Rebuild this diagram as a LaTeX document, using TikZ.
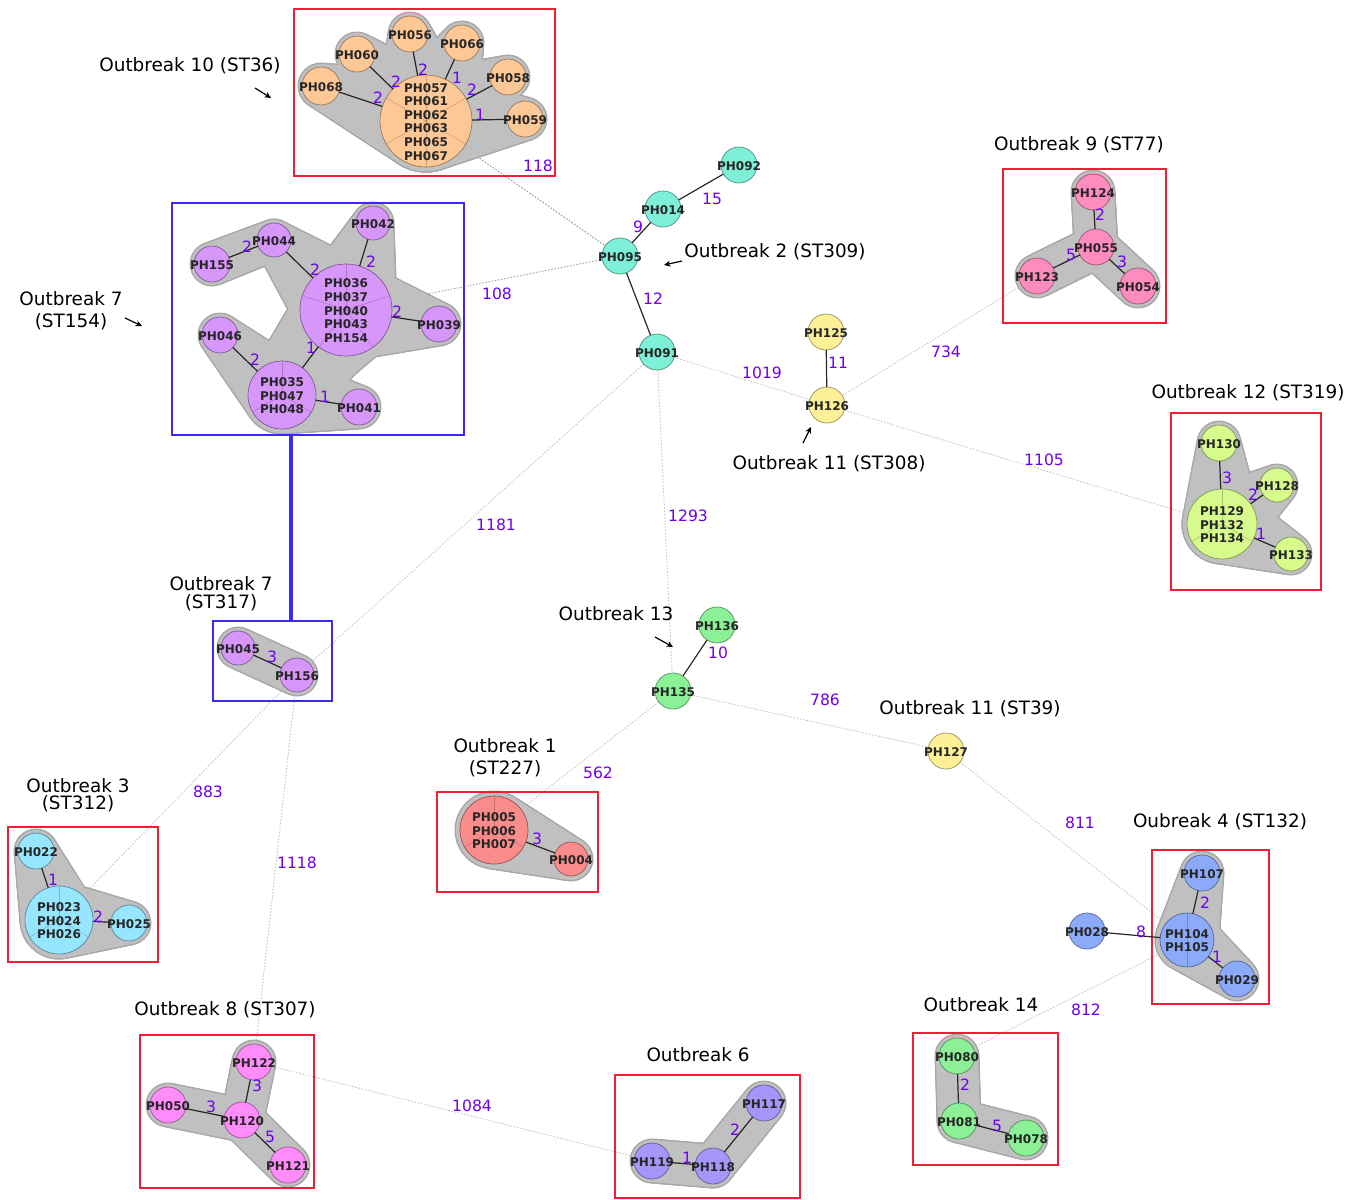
\documentclass[tikz,border=0pt]{standalone}
\usepackage{fontspec}
\setmainfont{DejaVu Sans}
\usetikzlibrary{arrows.meta, calc, fit}

\definecolor{cOrange}{RGB}{253,200,150}
\definecolor{cViolet}{RGB}{214,150,250}
\definecolor{cAqua}{RGB}{125,240,215}
\definecolor{cYellow}{RGB}{253,240,150}
\definecolor{cPink}{RGB}{255,140,190}
\definecolor{cLime}{RGB}{215,250,140}
\definecolor{cGreen}{RGB}{140,240,150}
\definecolor{cSalmon}{RGB}{250,140,140}
\definecolor{cSky}{RGB}{150,230,255}
\definecolor{cBlue}{RGB}{140,170,250}
\definecolor{cLavender}{RGB}{165,150,250}
\definecolor{cMagenta}{RGB}{255,140,250}
\definecolor{hullgrey}{RGB}{192,192,192}
\definecolor{hulledge}{RGB}{168,168,168}
\definecolor{boxred}{RGB}{240,30,50}
\definecolor{boxblue}{RGB}{60,40,240}
\definecolor{labviolet}{RGB}{110,0,240}

\newcommand{\nodefont}{\fontsize{6}{6.8}\selectfont\bfseries}
\newcommand{\edgefont}{\fontsize{7.8}{9}\selectfont}
\newcommand{\outfont}{\fontsize{9.2}{11}\selectfont}
% isolate ids: text may spill over the circle
\newcommand{\ids}[1]{\hbox to 0pt{\hss\raisebox{-1.2pt}[\height][\depth]{\begin{tabular}{@{}c@{}}#1\end{tabular}}\hss}}

\pgfdeclarelayer{far}
\pgfdeclarelayer{hullline}
\pgfdeclarelayer{hullfill}
\pgfsetlayers{far,hullline,hullfill,main}

% grey hull between two nodes (radii in px)
\newcommand{\hullpair}[4]{%
  \begin{pgfonlayer}{hullline}
    \foreach \i in {0,...,24}{%
      \pgfmathsetmacro{\hr}{(#3+(#4-#3)*\i/24+1.5)*0.5}
      \fill[hulledge] ($(#1)!\i/24!(#2)$) circle[radius=\hr pt];
    }
  \end{pgfonlayer}
  \begin{pgfonlayer}{hullfill}
    \foreach \i in {0,...,24}{%
      \pgfmathsetmacro{\hr}{(#3+(#4-#3)*\i/24)*0.5}
      \fill[hullgrey] ($(#1)!\i/24!(#2)$) circle[radius=\hr pt];
    }
  \end{pgfonlayer}}
\newcommand{\hullpoly}[1]{%
  \begin{pgfonlayer}{hullline}
    \filldraw[hulledge, line width=1.6pt, line join=round] #1 -- cycle;
  \end{pgfonlayer}
  \begin{pgfonlayer}{hullfill}
    \fill[hullgrey] #1 -- cycle;
  \end{pgfonlayer}}

\begin{document}
\begin{tikzpicture}[
    x=0.5pt, y=-0.5pt,
    pnode/.style 2 args={circle, fill=#1, draw=#1!60!black, line width=0.35pt, minimum size=#2pt,
        inner sep=0pt, outer sep=0pt, font=\nodefont, text=black!85},
    sectors/.style={path picture={\foreach \a in {#1}{\draw[line width=0.3pt, draw=black, draw opacity=0.2]
        (path picture bounding box.center) -- ++(\a:40pt);}}},
    tie/.style={draw=black!85, line width=0.6pt},
    farlink/.style={draw=gray!45, line width=0.45pt, dash pattern=on 0.8pt off 0.8pt},
    elab/.style={text=labviolet, font=\edgefont, inner sep=0pt},
    obl/.style={font=\outfont, align=center, inner sep=0pt},
    redbox/.style={draw=boxred, line width=1pt, inner sep=0pt, outer sep=0pt},
    bluebox/.style={draw=boxblue, line width=1pt, inner sep=0pt, outer sep=0pt},
    pointer/.style={-{Stealth[length=3.2pt,width=3pt]}, line width=0.6pt, black}
]
\useasboundingbox (0,0) rectangle (1363,1199);

% === Outbreak 10 (ST36) ===
\node[pnode={cOrange}{46}, sectors={90,30,-30,-90,-150,150}] (ph057) at (426,121) {\ids{PH057\\PH061\\PH062\\PH063\\PH065\\PH067}};
\node[pnode={cOrange}{19}] (ph068) at (321,86) {\ids{PH068}};
\node[pnode={cOrange}{18}] (ph060) at (357,54) {\ids{PH060}};
\node[pnode={cOrange}{18}] (ph056) at (410,34) {\ids{PH056}};
\node[pnode={cOrange}{18}] (ph066) at (462,43) {\ids{PH066}};
\node[pnode={cOrange}{18}] (ph058) at (508,77) {\ids{PH058}};
\node[pnode={cOrange}{18}] (ph059) at (525,119) {\ids{PH059}};
\node[redbox, fit={(294,9) (555,176)}] (box10) {};

% === Outbreak 7 (ST154) ===
\node[pnode={cViolet}{46}, sectors={90,18,-54,-126,162}] (ph036) at (346,310) {\ids{PH036\\PH037\\PH040\\PH043\\PH154}};
\node[pnode={cViolet}{34}, sectors={90,-30,-150}] (ph035) at (282,395) {\ids{PH035\\PH047\\PH048}};
\node[pnode={cViolet}{17}] (ph044) at (274,240) {\ids{PH044}};
\node[pnode={cViolet}{18}] (ph155) at (212,264) {\ids{PH155}};
\node[pnode={cViolet}{17}] (ph042) at (373,223) {\ids{PH042}};
\node[pnode={cViolet}{18}] (ph039) at (439,324) {\ids{PH039}};
\node[pnode={cViolet}{18}] (ph046) at (220,335) {\ids{PH046}};
\node[pnode={cViolet}{18}] (ph041) at (359,407) {\ids{PH041}};
\node[bluebox, fit={(172,203) (464,435)}] (box154) {};

% === Outbreak 7 (ST317) ===
\node[pnode={cViolet}{17}] (ph045) at (238,648) {\ids{PH045}};
\node[pnode={cViolet}{17}] (ph156) at (297,675) {\ids{PH156}};
\node[bluebox, fit={(213,621) (332,701)}] (box317) {};

% === Outbreak 2 (ST309) ===
\node[pnode={cAqua}{18}] (ph092) at (739,165) {\ids{PH092}};
\node[pnode={cAqua}{18}] (ph014) at (663,209) {\ids{PH014}};
\node[pnode={cAqua}{18}] (ph095) at (620,256) {\ids{PH095}};
\node[pnode={cAqua}{18}] (ph091) at (657,352) {\ids{PH091}};

% === Outbreak 11 (ST308) ===
\node[pnode={cYellow}{18}] (ph125) at (826,332) {\ids{PH125}};
\node[pnode={cYellow}{18}] (ph126) at (827,405) {\ids{PH126}};

% === Outbreak 9 (ST77) ===
\node[pnode={cPink}{18}] (ph124) at (1093,192) {\ids{PH124}};
\node[pnode={cPink}{18}] (ph055) at (1096,247) {\ids{PH055}};
\node[pnode={cPink}{18}] (ph123) at (1037,276) {\ids{PH123}};
\node[pnode={cPink}{18}] (ph054) at (1138,286) {\ids{PH054}};
\node[redbox, fit={(1003,169) (1166,323)}] (box9) {};

% === Outbreak 12 (ST319) ===
\node[pnode={cLime}{18}] (ph130) at (1219,443) {\ids{PH130}};
\node[pnode={cLime}{35}, sectors={90,-30,-150}] (ph129) at (1222,524) {\ids{PH129\\PH132\\PH134}};
\node[pnode={cLime}{17}] (ph128) at (1277,485) {\ids{PH128}};
\node[pnode={cLime}{17}] (ph133) at (1291,554) {\ids{PH133}};
\node[redbox, fit={(1171,413) (1321,590)}] (box12) {};

% === Outbreak 13 and Outbreak 11 (ST39) ===
\node[pnode={cGreen}{18}] (ph136) at (717,625) {\ids{PH136}};
\node[pnode={cGreen}{18}] (ph135) at (673,691) {\ids{PH135}};
\node[pnode={cYellow}{18}] (ph127) at (946,751) {\ids{PH127}};

% === Outbreak 1 (ST227) ===
\node[pnode={cSalmon}{34}, sectors={90,-30,-150}] (ph005) at (494,830) {\ids{PH005\\PH006\\PH007}};
\node[pnode={cSalmon}{17}] (ph004) at (571,859) {\ids{PH004}};
\node[redbox, fit={(437,792) (598,892)}] (box1) {};

% === Outbreak 3 (ST312) ===
\node[pnode={cSky}{18}] (ph022) at (36,851) {\ids{PH022}};
\node[pnode={cSky}{34}, sectors={90,-30,-150}] (ph023) at (59,920) {\ids{PH023\\PH024\\PH026}};
\node[pnode={cSky}{18}] (ph025) at (129,923) {\ids{PH025}};
\node[redbox, fit={(8,827) (158,962)}] (box3) {};

% === Oubreak 4 (ST132) ===
\node[pnode={cBlue}{18}] (ph107) at (1202,873) {\ids{PH107}};
\node[pnode={cBlue}{27}, sectors={90,-90}] (ph104) at (1187,940) {\ids{PH104\\PH105}};
\node[pnode={cBlue}{18}] (ph029) at (1237,979) {\ids{PH029}};
\node[pnode={cBlue}{18}] (ph028) at (1087,931) {\ids{PH028}};
\node[redbox, fit={(1152,850) (1269,1004)}] (box4) {};

% === Outbreak 14 ===
\node[pnode={cGreen}{18}] (ph080) at (957,1056) {\ids{PH080}};
\node[pnode={cGreen}{18}] (ph081) at (959,1121) {\ids{PH081}};
\node[pnode={cGreen}{18}] (ph078) at (1026,1138) {\ids{PH078}};
\node[redbox, fit={(913,1033) (1058,1165)}] (box14) {};

% === Outbreak 6 ===
\node[pnode={cLavender}{18}] (ph117) at (764,1103) {\ids{PH117}};
\node[pnode={cLavender}{18}] (ph118) at (713,1166) {\ids{PH118}};
\node[pnode={cLavender}{18}] (ph119) at (652,1161) {\ids{PH119}};
\node[redbox, fit={(615,1075) (800,1198)}] (box6) {};

% === Outbreak 8 (ST307) ===
\node[pnode={cMagenta}{18}] (ph122) at (254,1062) {\ids{PH122}};
\node[pnode={cMagenta}{18}] (ph120) at (242,1120) {\ids{PH120}};
\node[pnode={cMagenta}{18}] (ph050) at (168,1105) {\ids{PH050}};
\node[pnode={cMagenta}{18}] (ph121) at (288,1165) {\ids{PH121}};
\node[redbox, fit={(140,1035) (314,1188)}] (box8) {};

% === Grey hulls ===
\hullpair{ph057}{ph068}{50}{22}
\hullpair{ph057}{ph060}{50}{21}
\hullpair{ph057}{ph056}{50}{21}
\hullpair{ph057}{ph066}{50}{21}
\hullpair{ph057}{ph058}{50}{21}
\hullpair{ph057}{ph059}{50}{21}
\hullpoly{(ph057.center) -- (ph068.center) -- (340,68) -- (ph060.center) -- (388,50) -- (ph056.center) -- (437,58) -- (ph066.center) -- (480,63) -- (ph058.center) -- (518,100) -- (ph059.center)}

\hullpair{ph155}{ph044}{21}{20}
\hullpair{ph044}{ph036}{20}{50}
\hullpair{ph042}{ph036}{20}{50}
\hullpair{ph039}{ph036}{21}{50}
\hullpair{ph036}{ph035}{50}{38}
\hullpair{ph046}{ph035}{21}{38}
\hullpair{ph035}{ph041}{38}{21}
\hullpoly{(ph036.center) -- (ph042.center) -- (395,282) -- (ph039.center)}
\hullpoly{(ph036.center) -- (380,352) -- (347,380) -- (ph041.center) -- (ph035.center)}

\hullpair{ph045}{ph156}{20}{20}

\hullpair{ph124}{ph055}{21}{21}
\hullpair{ph123}{ph055}{21}{21}
\hullpair{ph055}{ph054}{21}{21}

\hullpair{ph130}{ph129}{21}{39}
\hullpair{ph129}{ph128}{39}{20}
\hullpair{ph129}{ph133}{39}{20}
\hullpoly{(ph130.center) -- (1247,473) -- (ph128.center) -- (1275,517) -- (ph133.center) -- (ph129.center)}

\hullpair{ph005}{ph004}{38}{21}

\hullpair{ph022}{ph023}{21}{38}
\hullpair{ph023}{ph025}{38}{21}
\hullpoly{(ph022.center) -- (83,890) -- (ph025.center) -- (ph023.center)}

\hullpair{ph107}{ph104}{21}{31}
\hullpair{ph104}{ph029}{31}{21}

\hullpair{ph080}{ph081}{21}{21}
\hullpair{ph081}{ph078}{21}{21}

\hullpair{ph119}{ph118}{21}{21}
\hullpair{ph118}{ph117}{21}{21}

\hullpair{ph122}{ph120}{21}{21}
\hullpair{ph050}{ph120}{21}{21}
\hullpair{ph120}{ph121}{21}{21}

% === Links inside clusters ===
\draw[tie] (ph057) -- (ph068);
\draw[tie] (ph057) -- (ph060);
\draw[tie] (ph057) -- (ph056);
\draw[tie] (ph057) -- (ph066);
\draw[tie] (ph057) -- (ph058);
\draw[tie] (ph057) -- (ph059);
\node[elab] (e068) at (378,98) {2};
\node[elab] (e060) at (396,82) {2};
\node[elab] (e056) at (423,70) {2};
\node[elab] (e066) at (457,78) {1};
\node[elab] (e058) at (472,90) {2};
\node[elab] (e059) at (480,115) {1};

\draw[tie] (ph155) -- (ph044);
\draw[tie] (ph044) -- (ph036);
\draw[tie] (ph042) -- (ph036);
\draw[tie] (ph039) -- (ph036);
\draw[tie] (ph036) -- (ph035);
\draw[tie] (ph046) -- (ph035);
\draw[tie] (ph035) -- (ph041);
\node[elab] (e155) at (247,247) {2};
\node[elab] (e044) at (315,270) {2};
\node[elab] (e042) at (371,262) {2};
\node[elab] (e039) at (397,312) {2};
\node[elab] (e035) at (311,348) {1};
\node[elab] (e046) at (255,360) {2};
\node[elab] (e041) at (325,397) {1};

\draw[tie] (ph045) -- (ph156);
\node[elab] (e045) at (272,657) {3};

\draw[tie] (ph092) -- (ph014);
\draw[tie] (ph014) -- (ph095);
\draw[tie] (ph095) -- (ph091);
\node[elab] (e092) at (712,199) {15};
\node[elab] (e014) at (638,227) {9};
\node[elab] (e095) at (653,299) {12};

\draw[tie] (ph125) -- (ph126);
\node[elab] (e125) at (838,363) {11};

\draw[tie] (ph124) -- (ph055);
\draw[tie] (ph123) -- (ph055);
\draw[tie] (ph055) -- (ph054);
\node[elab] (e124) at (1100,215) {2};
\node[elab] (e123) at (1071,255) {5};
\node[elab] (e054) at (1122,262) {3};

\draw[tie] (ph130) -- (ph129);
\draw[tie] (ph129) -- (ph128);
\draw[tie] (ph129) -- (ph133);
\node[elab] (e130) at (1227,478) {3};
\node[elab] (e128) at (1253,495) {2};
\node[elab] (e133) at (1261,534) {1};

\draw[tie] (ph136) -- (ph135);
\node[elab] (e136) at (718,653) {10};

\draw[tie] (ph005) -- (ph004);
\node[elab] (e004) at (537,839) {3};

\draw[tie] (ph022) -- (ph023);
\draw[tie] (ph023) -- (ph025);
\node[elab] (e022) at (53,880) {1};
\node[elab] (e025) at (98,917) {2};

\draw[tie] (ph107) -- (ph104);
\draw[tie] (ph104) -- (ph029);
\draw[tie] (ph028) -- (ph104);
\node[elab] (e107) at (1205,903) {2};
\node[elab] (e029) at (1217,957) {1};
\node[elab] (e028) at (1141,932) {8};

\draw[tie] (ph080) -- (ph081);
\draw[tie] (ph081) -- (ph078);
\node[elab] (e080) at (965,1085) {2};
\node[elab] (e078) at (997,1126) {5};

\draw[tie] (ph119) -- (ph118);
\draw[tie] (ph118) -- (ph117);
\node[elab] (e119) at (687,1158) {1};
\node[elab] (e117) at (735,1130) {2};

\draw[tie] (ph122) -- (ph120);
\draw[tie] (ph050) -- (ph120);
\draw[tie] (ph120) -- (ph121);
\node[elab] (e122) at (257,1086) {3};
\node[elab] (e050) at (211,1107) {3};
\node[elab] (e121) at (270,1137) {5};

% === Links between outbreaks ===
\begin{pgfonlayer}{far}
\draw[farlink, draw=gray!85] (ph057) -- (ph095);
\draw[farlink, draw=gray!70] (ph036) -- (ph095);
\draw[farlink] (ph091) -- (ph126);
\draw[farlink] (ph126) -- (ph123);
\draw[farlink] (ph126) -- (ph129);
\draw[farlink] (ph091) -- (ph156);
\draw[farlink] (ph091) -- (ph135);
\draw[farlink] (ph156) -- (ph023);
\draw[farlink] (ph156) -- (ph122);
\draw[farlink] (ph135) -- (ph005);
\draw[farlink] (ph135) -- (ph127);
\draw[farlink] (ph127) -- (ph104);
\draw[farlink] (ph104) -- (ph080);
\draw[farlink] (ph122) -- (ph119);
\end{pgfonlayer}
\node[elab] (d118) at (538,166) {118};
\node[elab] (d108) at (497,294) {108};
\node[elab] (d1019) at (762,373) {1019};
\node[elab] (d734) at (946,352) {734};
\node[elab] (d1105) at (1044,460) {1105};
\node[elab] (d1181) at (496,525) {1181};
\node[elab] (d1293) at (688,516) {1293};
\node[elab] (d883) at (208,792) {883};
\node[elab] (d1118) at (297,863) {1118};
\node[elab] (d562) at (598,773) {562};
\node[elab] (d786) at (825,700) {786};
\node[elab] (d811) at (1080,823) {811};
\node[elab] (d812) at (1086,1010) {812};
\node[elab] (d1084) at (472,1106) {1084};

% thick link between the two ST154/ST317 boxes
\coordinate (lnk) at (291,0);
\draw[draw=boxblue, line width=2pt] (box154.south -| lnk) -- (box317.north -| lnk);

% === Outbreak labels ===
\node[obl] (t10) at (190,66) {Outbreak 10 (ST36)};
\node[obl] (t154) at (71,311) {Outbreak 7\\(ST154)};
\node[obl] (t2) at (775,252) {Outbreak 2 (ST309)};
\node[obl] (t9) at (1079,145) {Outbreak 9 (ST77)};
\node[obl] (t308) at (829,464) {Outbreak 11 (ST308)};
\node[obl] (t12) at (1248,393) {Outbreak 12 (ST319)};
\node[obl, font=\fontsize{9.2}{9}\selectfont] (t317) at (221,594) {Outbreak 7\\(ST317)};
\node[obl] (t13) at (616,614) {Outbreak 13};
\node[obl] (t39) at (970,709) {Outbreak 11 (ST39)};
\node[obl] (t1) at (505,758) {Outbreak 1\\(ST227)};
\node[obl, font=\fontsize{9.2}{8.6}\selectfont] (t3) at (78,795) {Outbreak 3\\(ST312)};
\node[obl] (t4) at (1220,822) {Oubreak 4 (ST132)};
\node[obl] (t14) at (981,1005) {Outbreak 14};
\node[obl] (t6) at (698,1055) {Outbreak 6};
\node[obl] (t8) at (225,1010) {Outbreak 8 (ST307)};

% pointer arrows
\coordinate (p10a) at (255,88);   \coordinate (p10b) at (271,98);
\coordinate (p154a) at (125,318); \coordinate (p154b) at (142,326);
\coordinate (p2a) at (682,261);   \coordinate (p2b) at (664,265);
\coordinate (p308a) at (803,443); \coordinate (p308b) at (811,427);
\coordinate (p13a) at (655,637);  \coordinate (p13b) at (673,647);
\draw[pointer] (p10a) -- (p10b);
\draw[pointer] (p154a) -- (p154b);
\draw[pointer] (p2a) -- (p2b);
\draw[pointer] (p308a) -- (p308b);
\draw[pointer] (p13a) -- (p13b);

\end{tikzpicture}
\end{document}
